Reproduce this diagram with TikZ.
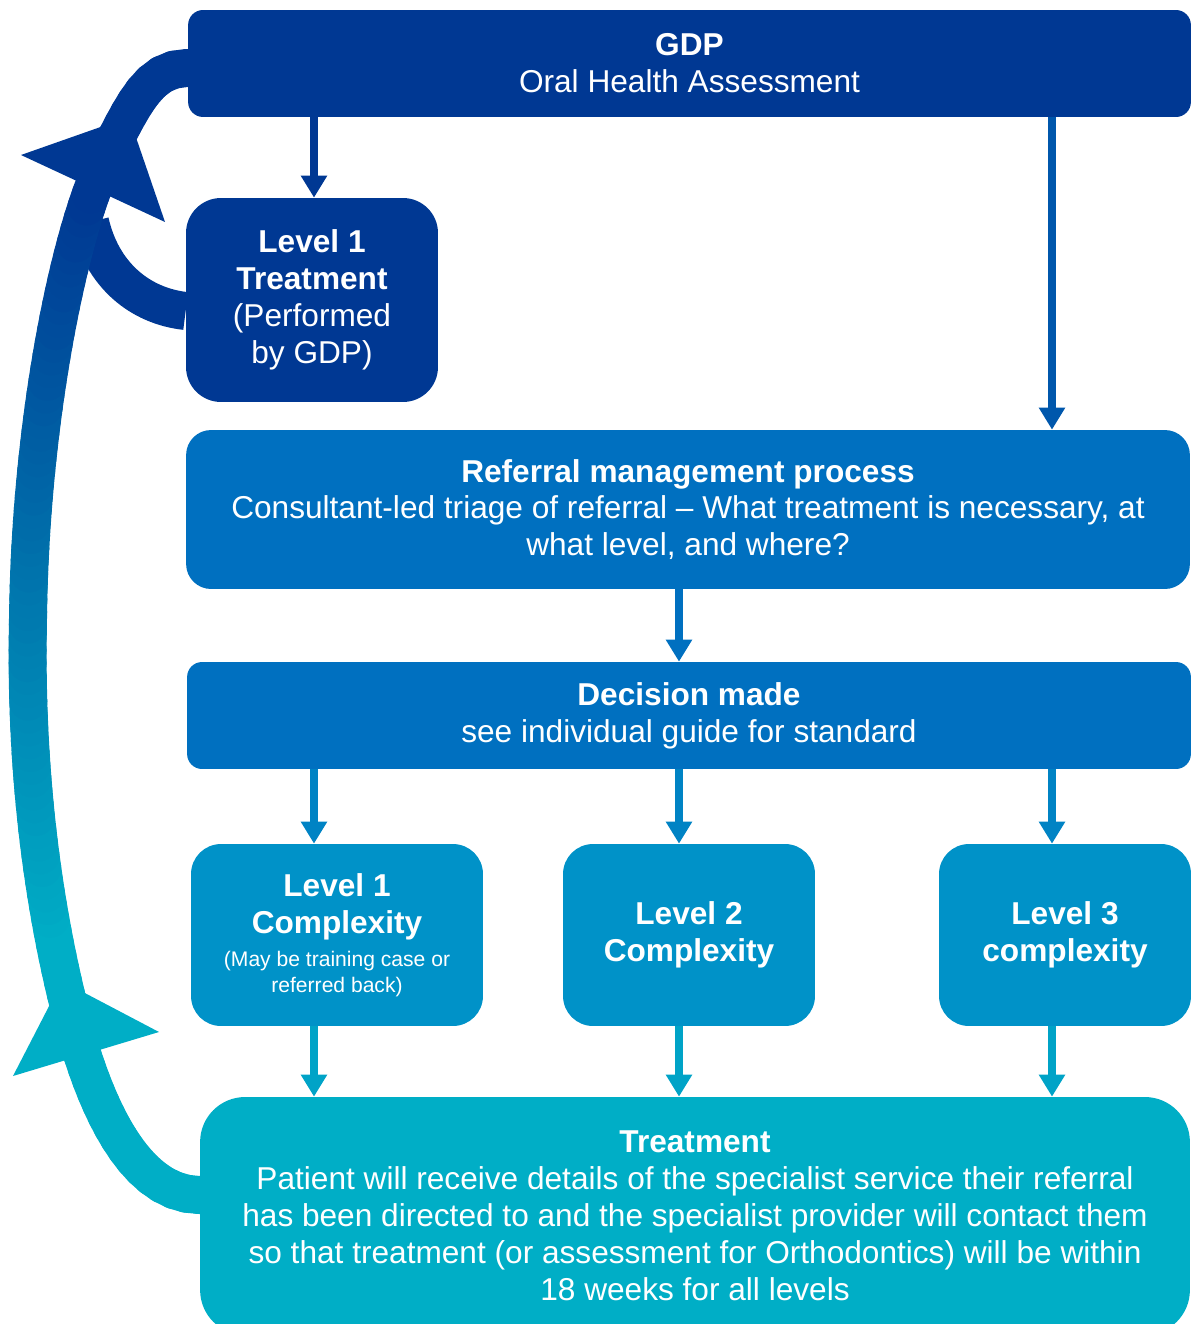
\documentclass[tikz,border=0pt]{standalone}
\usepackage{fontspec}
\setmainfont{Liberation Sans}
\usepackage{xcolor}
\usepackage{tikz}
\usetikzlibrary{arrows.meta}
\usetikzlibrary{calc}
\usetikzlibrary{backgrounds}
\usetikzlibrary{decorations.markings}

\definecolor{gdpblue}{HTML}{003893}
\definecolor{refblue}{HTML}{0070C0}
\definecolor{lvlblue}{HTML}{0092C8}
\definecolor{trtblue}{HTML}{00AEC6}

\begin{document}
\begin{tikzpicture}[x=0.02cm, y=-0.02cm]
\tikzstyle{every node}=[font=\fontsize{18}{21}\selectfont, text=white, align=center, inner sep=0pt]
\tikzstyle{box}=[rectangle, draw=none]
\tikzstyle{conn}=[line width=0.16cm, -{Triangle[width=0.5cm, length=0.44cm]}]
\tikzstyle{band}=[line width=0.76cm]
\useasboundingbox (0,0) rectangle (1191,1324);

% boxes
\node [box, fill=gdpblue, minimum width=20.06cm, minimum height=2.14cm, rounded corners=0.3cm] (gdp) at (689.5,63.5) {\textbf{GDP}\\Oral Health Assessment};
\node [box, fill=gdpblue, minimum width=5.04cm, minimum height=4.08cm, rounded corners=0.7cm] (l1t) at (312,300) {\textbf{Level 1}\\\textbf{Treatment}\\(Performed\\by GDP)};
\node [box, fill=refblue, minimum width=20.08cm, minimum height=3.18cm, rounded corners=0.5cm] (ref) at (688,509.5) {\textbf{Referral management process}\\Consultant-led triage of referral -- What treatment is necessary, at\\what level, and where?};
\node [box, fill=refblue, minimum width=20.08cm, minimum height=2.14cm, rounded corners=0.3cm] (dec) at (689,715.5) {\textbf{Decision made}\\see individual guide for standard};
\node [box, fill=lvlblue, minimum width=5.84cm, minimum height=3.64cm, rounded corners=0.6cm] (l1c) at (337,935) {\textbf{Level 1}\\\textbf{Complexity}\\[-2.3pt]\fontsize{12}{14.8}\selectfont (May be training case or\\[-6.2pt]\fontsize{12}{14.8}\selectfont referred back)};
\node [box, fill=lvlblue, minimum width=5.04cm, minimum height=3.64cm, rounded corners=0.6cm] (l2c) at (689,935) {\textbf{Level 2}\\\textbf{Complexity}};
\node [box, fill=lvlblue, minimum width=5.04cm, minimum height=3.64cm, rounded corners=0.6cm] (l3c) at (1065,935) {\textbf{Level 3}\\\textbf{complexity}};
\node [box, fill=trtblue, minimum width=19.8cm, minimum height=4.76cm, rounded corners=0.9cm] (treat) at (695,1216) {\textbf{Treatment}\\Patient will receive details of the specialist service their referral\\has been directed to and the specialist provider will contact them\\so that treatment (or assessment for Orthodontics) will be within\\18 weeks for all levels};

% arrow columns
\coordinate (c1) at (314,0);
\coordinate (c2) at (679,0);
\coordinate (c3) at (1052,0);

\draw [conn, gdpblue] (gdp.south -| c1) -- (l1t.north -| c1);
\draw [conn, refblue!55!gdpblue] (gdp.south -| c3) -- (ref.north -| c3);
\draw [conn, refblue] (ref.south -| c2) -- (dec.north -| c2);
\draw [conn, refblue!45!lvlblue] (dec.south -| c1) -- (l1c.north -| c1);
\draw [conn, refblue!45!lvlblue] (dec.south -| c2) -- (l2c.north -| c2);
\draw [conn, refblue!45!lvlblue] (dec.south -| c3) -- (l3c.north -| c3);
\draw [conn, trtblue!60!lvlblue] (l1c.south -| c1) -- (treat.north -| c1);
\draw [conn, trtblue!60!lvlblue] (l2c.south -| c2) -- (treat.north -| c2);
\draw [conn, trtblue!60!lvlblue] (l3c.south -| c3) -- (treat.north -| c3);

% loop back to GDP
\begin{pgfonlayer}{background}
\draw [band, gdpblue] (l1t.west |- 0,311) .. controls (140,306) and (102,275) .. (90,222);
\path [decorate, decoration={markings, mark=between positions 0 and 1 step 0.01 with {\coordinate (b\pgfkeysvalueof{/pgf/decoration/mark info/sequence number});}}]
  ($(treat.west |- 0,1195)+(25,0)$) -- (treat.west |- 0,1195)
  .. controls (140,1195) and (100,1120) .. (75,1030)
  .. controls (40,900) and (25,760) .. (28,620)
  .. controls (30,420) and (70,230) .. (105,160)
  .. controls (135,100) and (150,68) .. (gdp.west |- 0,68) -- ++(25,0);
\foreach \i in {1,...,98} {
  \pgfmathtruncatemacro{\j}{\i+1}
  \pgfmathtruncatemacro{\p}{max(0,min(100,(86-\i)*100/58))}
  \draw [band, line cap=round, trtblue!\p!gdpblue] (b\i) -- (b\j);
}
\end{pgfonlayer}
\fill [gdpblue] (21,155) -- (129,117) -- (165,222) -- cycle;
\fill [trtblue] (13,1076) -- (62,981) -- (159,1032) -- cycle;
\end{tikzpicture}
\end{document}
